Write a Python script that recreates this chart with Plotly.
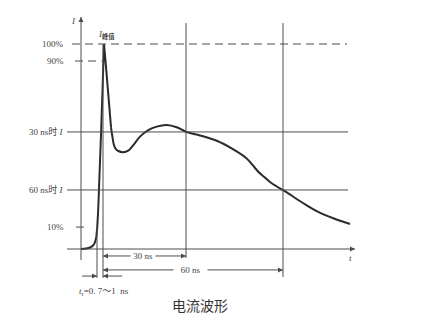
import plotly.graph_objects as go

# ---- data (schematic time units, current in % of peak) ----
curve_t = [0, 5, 9, 12, 14, 15.3, 16.2, 17.2, 18.5, 20, 21.5, 23,
           25, 27.5, 30, 31.5, 32.8, 34.5, 37.3, 42.3, 47.3, 52.3, 59, 67.3, 75.7,
           85.7, 95.7, 105, 119, 135.7, 152.3, 165.7, 171.5, 177.3, 183, 189, 195.5, 201.7,
           208, 215.7, 225, 235.7, 252.3, 269]
curve_i = [0, 0.24, 0.73, 1.7, 3.4, 5.9, 10.2, 19.0, 33.7, 55.6, 77.6, 100,
           88.8, 72.7, 59.5, 54.5, 51.0, 49.0, 47.8, 47.2, 48.0, 50.7, 54.8, 58.0, 59.7,
           60.5, 59.4, 57.2, 55.4, 52.8, 48.6, 44.2, 41.0, 37.7, 35.2, 32.7, 30.6, 28.8,
           26.9, 24.4, 21.5, 18.5, 15.0, 12.2]

level_labels = ["100%", "90%", "30 ns时 <i>I</i>", "60 ns时 <i>I</i>", "10%"]
level_values = [100, 91.7, 57.1, 28.8, 10.7]

mark_labels = ["30 ns", "60 ns"]
mark_t = [105, 202]

peak_t = 22
rise_start_t = 16

peak_label = "<i>I</i><sub><b>峰值</b></sub>"
tr_label = "<i>t</i><sub>r</sub>=0. 7～1  ns"
caption = "电流波形"

# ---- styling ----
LINE = "#4d4d4d"
TXT = "#444444"
CURVE = "#2b2b2b"
SERIF = "Liberation Serif, Noto Sans CJK SC, serif"

fig = go.Figure()
k_peak = curve_i.index(max(curve_i))
k_split = k_peak + 3
fig.add_trace(go.Scatter(x=curve_t[:6], y=curve_i[:6], mode="lines",
                         line=dict(color=CURVE, width=2, shape="spline", smoothing=0.8),
                         hoverinfo="skip"))
fig.add_trace(go.Scatter(x=curve_t[5:k_split + 1], y=curve_i[5:k_split + 1], mode="lines",
                         line=dict(color=CURVE, width=2), hoverinfo="skip"))
fig.add_trace(go.Scatter(x=curve_t[k_split:], y=curve_i[k_split:], mode="lines",
                         line=dict(color=CURVE, width=2, shape="spline", smoothing=1.0),
                         hoverinfo="skip"))

shapes = []
def hline(y, x0, x1, dash="solid"):
    shapes.append(dict(type="line", xref="x", yref="y", x0=x0, x1=x1, y0=y, y1=y,
                       line=dict(color=LINE, width=1, dash=dash)))
def vline(x, y0, y1):
    shapes.append(dict(type="line", xref="x", yref="y", x0=x, x1=x, y0=y0, y1=y1,
                       line=dict(color=LINE, width=1)))

# level lines
hline(level_values[0], -9, 266, dash="8px,5px")
hline(level_values[1], -6, peak_t - 1.5, dash="8px,5px")
hline(level_values[2], -14, 267)
hline(level_values[3], -14, 267)
hline(level_values[4], -5, 3)

# axes
vline(0, -5.4, 113.2)
hline(0, -14, 274)

# verticals
vline(mark_t[0], 110.2, -4.4)
vline(mark_t[1], 110.2, -13.7)
vline(peak_t, level_values[0], -14.1)
vline(rise_start_t, level_values[4], -14.1)

# span arrows
y_span = [-3.4, -10.2]
for t, ys in zip(mark_t, y_span):
    hline(ys, peak_t, t)
y_tr = -13.2
hline(y_tr, 1, rise_start_t)
hline(y_tr, peak_t, 41)

# arrow heads (tip at point)
heads_x, heads_y, heads_sym = [], [], []
def head(x, y, sym):
    heads_x.append(x); heads_y.append(y); heads_sym.append(sym)
head(0, 113.2, "arrow-up")
head(274, 0, "arrow-right")
for t, ys in zip(mark_t, y_span):
    head(peak_t, ys, "arrow-left")
    head(t, ys, "arrow-right")
head(rise_start_t, y_tr, "arrow-right")
head(peak_t, y_tr, "arrow-left")
fig.add_trace(go.Scatter(x=heads_x, y=heads_y, mode="markers",
                         marker=dict(symbol=heads_sym, size=5, color=LINE,
                                     line=dict(width=0)),
                         hoverinfo="skip"))

annotations = []
def text(x, y, s, size=9, xanchor="center", bg=None, family=SERIF, color=TXT):
    d = dict(x=x, y=y, xref="x", yref="y", text=s, showarrow=False,
             xanchor=xanchor, yanchor="middle",
             font=dict(family=family, size=size, color=color))
    if bg:
        d["bgcolor"] = bg
        d["borderpad"] = 0
    annotations.append(d)

text(62, y_span[0], " " + mark_labels[0] + " ", bg="white")
text(109, y_span[1], "   " + mark_labels[1] + "   ", bg="white")

for lab, v in zip(level_labels, level_values):
    text(-15, v, lab, xanchor="right")

text(-8, 111.2, "<i>I</i>")
text(269, -4.4, "<i>t</i>")
text(25, 104.5, peak_label, size=9)
text(-4, -20.5, tr_label, xanchor="left")
text(119, -27.3, caption, size=14, family="Noto Sans CJK SC", color="#333333")

fig.update_layout(
    width=431, height=320,
    margin=dict(l=0, r=0, t=0, b=0),
    paper_bgcolor="white", plot_bgcolor="white",
    showlegend=False,
    xaxis=dict(range=[-81, 350], visible=False, fixedrange=True),
    yaxis=dict(range=[-34.63, 121.46], visible=False, fixedrange=True),
    shapes=shapes, annotations=annotations,
)

fig.write_html("out.html")
